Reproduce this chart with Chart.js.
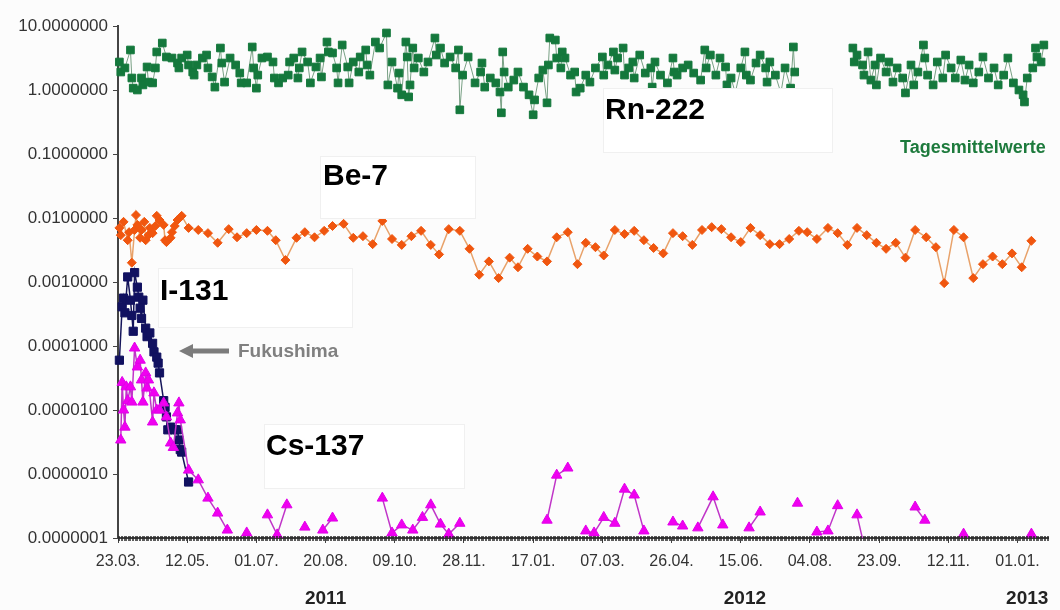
<!DOCTYPE html>
<html><head><meta charset="utf-8">
<script src="https://cdn.jsdelivr.net/npm/chart.js@4.4.1/dist/chart.umd.min.js"></script>
<style>html,body{margin:0;padding:0;background:#fcfcfc;}#wrap{width:1060px;height:610px;}</style>
</head><body><div id="wrap"><canvas id="c" width="1060" height="610"></canvas></div>
<script>
// x = days since 23.03.2011
const xTickDays = [0,50,100,150,200,250,300,350,400,450,500,550,600,650];
const xTickLabels = ['23.03.','12.05.','01.07.','20.08.','09.10.','28.11.','17.01.','07.03.','26.04.','15.06.','04.08.','23.09.','12.11.','01.01.'];
const yTickValues = [1e-7,1e-6,1e-5,1e-4,1e-3,1e-2,1e-1,1,10];
const yTickLabels = ['0.0000001','0.0000010','0.0000100','0.0001000','0.0010000','0.0100000','0.1000000','1.0000000','10.0000000'];
const yearLabels = ['2011','2012','2013'];
const yearDays = [150,453,657];

const rnDays = [1,2,5,9,10,11,14,17,18,21,
 22,25,27,28,32,35,39,43,44,46,
 50,51,54,55,57,61,64,65,68,70,
 74,75,77,81,85,88,89,93,97,98,
 100,101,104,108,112,113,116,119,123,124,
 127,130,131,133,137,139,143,146,147,151,
 152,155,158,159,162,166,167,170,174,175,
 179,180,182,186,189,194,195,198,202,203,
 205,208,209,210,211,213,214,217,221,224,
 229,230,233,236,240,244,246,247,249,253,
 258,262,263,265,269,273,276,277,278,279,
 282,286,289,293,297,300,301,304,307,310,
 311,312,316,317,320,321,323,327,330,331,
 334,338,341,345,350,351,354,358,359,361,
 365,366,369,372,373,377,381,385,386,388,
 392,397,401,402,404,408,412,416,421,424,
 425,428,432,435,439,440,443,446,450,453,
 454,457,461,464,468,469,471,475,479,482,
 486,488,489,510,531,532,534,538,539,542,
 544,547,548,551,555,557,560,563,567,569,
 573,575,578,582,583,585,589,592,596,598,
 602,605,609,612,615,618,622,625,629,633,
 636,640,643,647,651,654,655,657,661,663,
 664,667,669];
const rnValues = [2.74,1.91,2.21,4.22,1.54,1.07,1.00,1.54,1.20,2.29,
 1.33,1.29,2.21,3.93,5.42,3.28,3.16,2.64,2.21,3.16,
 3.52,2.46,1.91,1.71,2.46,3.16,3.52,2.21,1.60,1.11,
 4.53,2.64,1.33,3.16,2.46,1.84,1.29,1.29,4.70,2.21,
 1.07,1.71,3.16,3.28,2.74,1.54,1.29,1.54,1.71,2.74,
 3.16,1.54,2.21,3.93,2.74,1.29,2.29,3.16,1.60,5.62,
 3.93,3.79,2.21,1.29,5.05,2.29,1.29,2.74,1.91,3.28,
 4.22,2.46,1.71,5.62,4.53,7.78,1.20,2.74,1.07,1.84,
 0.84,5.62,3.28,0.78,1.20,4.53,2.21,3.16,1.91,2.74,
 6.49,3.52,4.53,2.64,3.28,2.21,4.22,0.49,1.71,3.28,
 1.29,1.91,2.64,1.11,1.54,1.29,0.93,0.44,3.93,1.91,
 1.11,1.43,1.91,1.11,0.84,0.41,0.70,1.54,2.05,0.63,
 2.46,6.49,6.04,3.16,2.21,3.93,3.16,1.71,1.91,0.93,
 1.07,1.71,1.33,2.21,3.28,1.71,2.46,3.93,2.05,3.16,
 4.53,1.71,2.21,2.74,1.54,3.52,1.84,2.21,1.11,2.74,
 1.71,1.29,3.16,1.91,1.71,2.21,2.46,1.84,1.43,4.22,
 2.21,3.52,1.71,3.16,2.29,1.20,1.54,0.90,2.21,3.93,
 1.71,1.43,2.64,3.52,2.21,1.33,2.74,1.71,0.90,2.21,
 1.07,4.70,1.91,null,4.53,2.74,3.52,2.46,1.71,3.93,
 1.43,2.46,1.20,3.16,1.91,2.74,1.33,2.21,1.54,0.90,
 2.46,1.20,1.91,5.05,3.16,1.71,1.20,2.74,1.54,3.52,
 2.21,1.54,2.94,1.43,2.46,1.29,1.91,3.28,1.54,2.21,
 1.20,1.71,3.16,1.29,1.00,0.84,0.65,1.54,2.21,4.53,
 3.28,2.74,5.05];

const beDays = [1,2,4,7,8,10,12,13,14,16,
 17,19,20,22,23,25,27,28,30,33,
 34,35,38,39,41,43,46,51,58,65,
 72,80,86,93,100,108,114,121,129,135,
 142,149,155,163,170,177,184,191,198,205,
 212,219,226,232,239,247,254,261,268,275,
 283,289,296,303,310,317,325,332,338,345,
 351,359,366,373,380,387,394,401,408,415,
 422,429,436,443,450,457,464,471,478,485,
 492,498,505,513,520,527,534,541,548,555,
 562,569,576,584,591,597,604,611,618,625,
 632,639,646,653,660];
const beValues = [0.0070,0.0054,0.0087,0.0045,0.0060,0.0020,0.0065,0.0111,0.0078,0.0049,
 0.0065,0.0087,0.0045,0.0054,0.0070,0.0058,0.0075,0.0108,0.0093,0.0078,
 0.0045,0.0042,0.0049,0.0060,0.0075,0.0093,0.0108,0.0070,0.0065,0.0058,
 0.0041,0.0067,0.0050,0.0058,0.0065,0.0063,0.0045,0.0022,0.0049,0.0060,
 0.0050,0.0063,0.0075,0.0081,0.0049,0.0052,0.0039,0.0090,0.0047,0.0038,
 0.0052,0.0063,0.0038,0.0027,0.0067,0.0063,0.0033,0.0013,0.0021,0.00115,
 0.0024,0.0017,0.0033,0.0025,0.0021,0.0050,0.0060,0.0019,0.0041,0.0035,
 0.0026,0.0065,0.0056,0.0063,0.0045,0.0034,0.0028,0.0058,0.0052,0.0038,
 0.0065,0.0072,0.0067,0.0050,0.0042,0.0070,0.0054,0.0039,0.0039,0.0047,
 0.0063,0.0060,0.0047,0.0070,0.0058,0.0038,0.0070,0.0054,0.0041,0.0033,
 0.0041,0.0024,0.0065,0.0050,0.0035,0.00096,0.0065,0.0050,0.00115,0.0019,
 0.0025,0.0019,0.0028,0.0017,0.0044];

const iDays = [1,3,4,5,7,9,10,11,12,14,15,16,17,18,20,21,23,25,26,28,29,30,33,34,35,36,38,41,43,44,45,46,51];
const iValues = [6.0e-5,4.1e-4,5.6e-4,3.3e-4,1.2e-3,5.2e-4,3.0e-4,1.7e-4,1.4e-3,8.3e-4,5.8e-4,3.9e-4,2.7e-4,5.2e-4,1.9e-4,1.4e-4,1.6e-4,1.1e-4,8.1e-5,6.7e-5,5.4e-5,3.8e-5,1.4e-5,1.1e-5,7.8e-6,4.9e-6,5.4e-6,4.9e-6,4.9e-6,3.4e-6,2.4e-6,2.2e-6,7.5e-7];

const csDays = [2,3,4,5,6,7,9,10,12,14,
 16,17,18,20,21,22,25,26,28,30,
 33,35,38,40,43,44,45,51,58,65,
 72,79,86,93,100,108,115,122,128,135,
 141,148,155,170,191,198,205,213,220,226,
 233,239,247,280,310,317,325,330,338,344,
 351,359,366,373,380,390,401,408,413,419,
 430,437,445,456,464,480,491,498,505,513,
 520,527,534,541,560,576,583,597,611,640,
 660];
const csValues = [3.4e-6,2.7e-5,1.0e-5,5.4e-6,2.3e-5,1.4e-5,2.3e-5,1.33e-5,9.3e-5,4.7e-5,
 6.0e-5,2.95e-5,1.33e-5,3.8e-5,2.2e-5,2.95e-5,6.5e-6,1.85e-5,1.0e-5,1.0e-5,
 1.29e-5,7.8e-6,3.05e-6,2.6e-6,9.0e-6,1.29e-5,7.0e-6,1.15e-6,8.1e-7,4.2e-7,
 2.45e-7,1.33e-7,null,1.2e-7,null,2.3e-7,1.12e-7,3.3e-7,null,1.48e-7,
 null,1.33e-7,2.05e-7,null,4.2e-7,1.2e-7,1.6e-7,1.33e-7,2.1e-7,3.3e-7,
 1.65e-7,1.15e-7,1.7e-7,null,1.9e-7,9.6e-7,1.24e-6,null,1.29e-7,1.2e-7,
 2.1e-7,1.7e-7,5.8e-7,4.7e-7,1.29e-7,null,1.78e-7,1.54e-7,null,1.44e-7,
 4.4e-7,1.6e-7,null,1.44e-7,2.55e-7,null,3.5e-7,null,1.24e-7,1.29e-7,
 3.2e-7,null,2.3e-7,5e-8,null,3.05e-7,1.9e-7,null,1.15e-7,null,
 1.15e-7];

function pts(days, vals){ return days.map((d,i)=>({x:d, y:vals[i]})); }
const FONT = '"Liberation Sans", Arial, sans-serif';

const annotPlugin = {
  id:'annot',
  afterDatasetsDraw(chart){
    const c = chart.ctx;
    c.save();
    const boxes = [
      {t:'Rn-222', x:603, y:88, w:229, h:64, tx:605, ty:119},
      {t:'Be-7', x:320, y:156, w:155, h:62, tx:323, ty:185},
      {t:'I-131', x:158, y:268, w:194, h:59, tx:160, ty:300},
      {t:'Cs-137', x:264, y:424, w:200, h:64, tx:266, ty:455}
    ];
    boxes.forEach(b=>{
      c.fillStyle='#ffffff'; c.fillRect(b.x,b.y,b.w,b.h);
      c.strokeStyle='#f0f0f0'; c.lineWidth=1; c.strokeRect(b.x+0.5,b.y+0.5,b.w,b.h);
      c.fillStyle='#000'; c.font='bold 30px '+FONT; c.textBaseline='alphabetic'; c.textAlign='left';
      c.fillText(b.t,b.tx,b.ty);
    });
    // Fukushima arrow
    c.fillStyle='#7c7c7c'; c.strokeStyle='#7c7c7c';
    c.lineWidth=5; c.beginPath(); c.moveTo(190,351); c.lineTo(229,351); c.stroke();
    c.beginPath(); c.moveTo(179,351); c.lineTo(193,344); c.lineTo(193,358); c.closePath(); c.fill();
    c.font='bold 19px '+FONT; c.fillStyle='#808080'; c.fillText('Fukushima',238,357);
    c.font='bold 18px '+FONT; c.fillStyle='#1d7a3c'; c.fillText('Tagesmittelwerte',900,153);
    c.restore();
  },
  afterDraw(chart){
    const c = chart.ctx, xs = chart.scales.x, area = chart.chartArea;
    c.save();
    c.strokeStyle='rgba(40,40,40,0.75)'; c.lineWidth=1;
    c.beginPath();
    for(let d=0; d<=xs.max; d+=1){
      const px = Math.round(xs.getPixelForValue(d))+0.5;
      c.moveTo(px, area.bottom-2); c.lineTo(px, area.bottom+3);
    }
    c.stroke();
    c.fillStyle='#222'; c.font='bold 19px '+FONT; c.textAlign='center'; c.textBaseline='middle';
    yearLabels.forEach((t,i)=>c.fillText(t, xs.getPixelForValue(yearDays[i]), 599));
    c.restore();
  }
};

new Chart(document.getElementById('c'), {
  type:'line',
  data:{ datasets:[
    {label:'Cs-137', data:pts(csDays,csValues), order:0, borderColor:'#c035c8', borderWidth:1.5,
     pointStyle:'triangle', pointRadius:6, pointBackgroundColor:'#f000f0', pointBorderColor:'#e000e8', pointBorderWidth:1,
     clip:{left:6,right:6,top:6,bottom:0}},
    {label:'I-131', data:pts(iDays,iValues), order:1, borderColor:'#15155a', borderWidth:1.5,
     pointStyle:'rect', pointRadius:5.8, pointBackgroundColor:'#111160', pointBorderColor:'#111160', pointBorderWidth:1, clip:false},
    {label:'Be-7', data:pts(beDays,beValues), order:2, borderColor:'#e8a26a', borderWidth:1.5,
     pointStyle:'rectRot', pointRadius:4.5, pointBackgroundColor:'#f0560f', pointBorderColor:'#f0560f', pointBorderWidth:1, clip:false},
    {label:'Rn-222', data:pts(rnDays,rnValues), order:3, borderColor:'#78a084', borderWidth:1,
     pointStyle:'rect', pointRadius:5.4, pointBackgroundColor:'#14783c', pointBorderColor:'#14783c', pointBorderWidth:1, clip:false}
  ]},
  options:{
    responsive:false, animation:false, events:[],
    spanGaps:false,
    layout:{padding:{top:26,right:12,left:0,bottom:0}},
    plugins:{legend:{display:false}, tooltip:{enabled:false}},
    scales:{
      x:{type:'linear', min:0, max:672,
        afterFit(s){ s.height = 72; },
        afterBuildTicks(s){ s.ticks = xTickDays.map(v=>({value:v})); },
        border:{display:true, color:'#444', width:2},
        grid:{display:true, drawOnChartArea:false, drawTicks:true, tickLength:5, color:'#444'},
        ticks:{autoSkip:false, maxRotation:0, padding:9, color:'#333', font:{family:FONT, size:16},
          callback:(v,i)=>xTickLabels[i]}
      },
      y:{type:'logarithmic', min:1e-7, max:10,
        afterFit(s){ s.width = 118; },
        afterBuildTicks(s){ s.ticks = yTickValues.map(v=>({value:v})); },
        border:{display:true, color:'#444', width:2},
        grid:{display:true, drawOnChartArea:false, drawTicks:true, tickLength:5, color:'#444'},
        ticks:{autoSkip:false, padding:5, color:'#333', font:{family:FONT, size:17},
          callback:(v,i)=>yTickLabels[i]}
      }
    }
  },
  plugins:[annotPlugin]
});
</script>
</body></html>
